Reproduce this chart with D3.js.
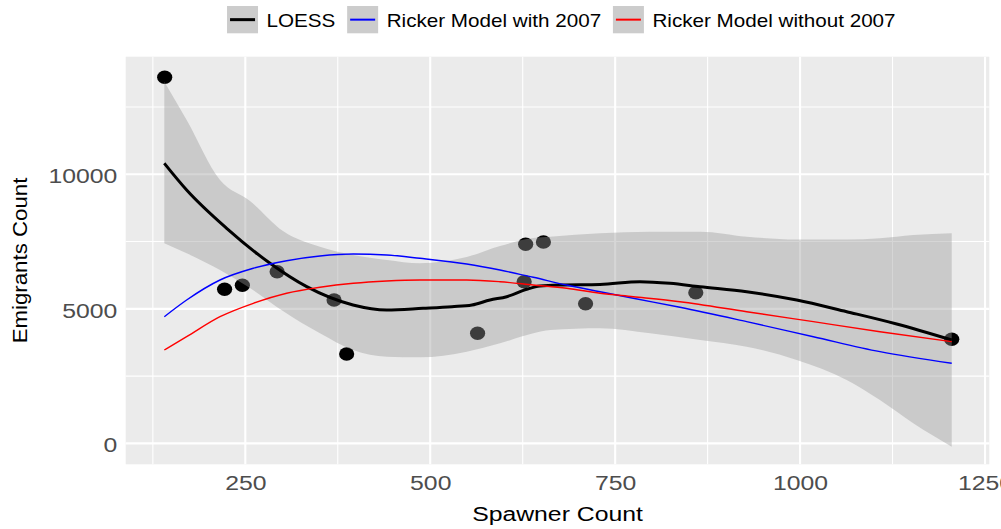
<!DOCTYPE html>
<html>
<head>
<meta charset="utf-8">
<script src="https://cdn.jsdelivr.net/npm/d3@7"></script>
<style>
  html, body { margin: 0; padding: 0; background: #ffffff; }
  svg { display: block; font-family: "Liberation Sans", Arial, sans-serif; }
</style>
</head>
<body>
<svg id="chart" width="1001" height="529"></svg>
<script>
// Observed spawner / emigrant pairs
const spawners  = [141, 222, 246, 293, 370, 387, 564, 629, 653, 627, 710, 859, 1205];
const emigrants = [13605, 5727, 5875, 6381, 5329, 3322, 4091, 7399, 7484, 6009, 5191, 5600, 3868];

// LOESS fit
const loessX   = [140.5, 170.7, 224.8, 283.4, 333.0, 395.6, 441.1, 490.2, 529.4, 556.4, 580.8, 603.4,
                  630.4, 648.3, 675.4, 729.5, 783.5, 824.1, 864.6, 927.8, 995.4, 1063.0, 1130.6, 1205];
const loessFit = [10409, 9417, 7993, 6693, 5823, 5143, 4957, 5020, 5080, 5143, 5329, 5452,
                  5727, 5849, 5886, 5905, 6009, 5950, 5823, 5637, 5329, 4894, 4437, 3842];

// LOESS confidence band
const bandX     = [140.5, 170.7, 215.8, 256.3, 300.9, 350.9, 395.6, 441.5, 486.1, 549.3, 594.3,
                   639.3, 662.2, 729.8, 797.4, 865.0, 927.8, 995.4, 1063.0, 1107.9, 1153.0, 1205];
const bandLower = [7436, 7064, 6444, 5775, 4920, 4091, 3471, 3222, 3200, 3408, 3720,
                   4091, 4214, 4277, 4091, 3842, 3593, 3099, 2356, 1613, 747, -123];
const bandUpper = [13441, 12018, 9788, 9008, 7893, 7310, 7001, 6815, 6693, 6927, 7336,
                   7633, 7681, 7807, 7867, 7867, 7681, 7577, 7577, 7622, 7744, 7807];

// Ricker model curves
const rickerX       = [140.5, 170.7, 215.8, 260.8, 305.9, 350.9, 396.0, 441.1, 486.1, 549.3,
                       594.3, 639.3, 684.5, 729.6, 774.5, 837.6, 927.8, 1017.9, 1108, 1205];
const rickerWith    = [4708, 5329, 6072, 6507, 6789, 6964, 7038, 7001, 6878, 6667,
                       6444, 6172, 5886, 5637, 5392, 5058, 4523, 3965, 3408, 2977];
const rickerWithout = [3471, 3965, 4708, 5206, 5578, 5801, 5950, 6035, 6072, 6072,
                       6009, 5886, 5764, 5578, 5452, 5266, 4894, 4523, 4151, 3779];

const xTicks = [250, 500, 750, 1000, 1250];
const xMinor = [125, 375, 625, 875, 1125];
const yTicks = [0, 5000, 10000];
const yMinor = [2500, 7500, 12500];

const seriesNames  = ["LOESS", "Ricker Model with 2007", "Ricker Model without 2007"];
const seriesColors = ["#000000", "#0000FF", "#FF0000"];

// ---- layout ----
const svg = d3.select("#chart");
const panel = { left: 125.7, right: 989.3, top: 56.7, bottom: 464.3 };
const stretch = 1.18;   // horizontal widening applied to all text

const x = d3.scaleLinear().domain([88.3, 1255.8]).range([panel.left, panel.right]);
const y = d3.scaleLinear().domain([-777, 14370]).range([panel.bottom, panel.top]);

svg.append("rect").attr("width", 1001).attr("height", 529).attr("fill", "#ffffff");

// panel background
svg.append("rect")
  .attr("x", panel.left).attr("y", panel.top)
  .attr("width", panel.right - panel.left).attr("height", panel.bottom - panel.top)
  .attr("fill", "#EBEBEB");

const grid = svg.append("g").attr("stroke", "#ffffff");
grid.selectAll(".vminor").data(xMinor).join("line")
  .attr("x1", d => x(d)).attr("x2", d => x(d))
  .attr("y1", panel.top).attr("y2", panel.bottom).attr("stroke-width", 1.1);
grid.selectAll(".hminor").data(yMinor).join("line")
  .attr("y1", d => y(d)).attr("y2", d => y(d))
  .attr("x1", panel.left).attr("x2", panel.right).attr("stroke-width", 1.1);
grid.selectAll(".vmajor").data(xTicks.filter(v => x(v) <= panel.right)).join("line")
  .attr("x1", d => x(d)).attr("x2", d => x(d))
  .attr("y1", panel.top).attr("y2", panel.bottom).attr("stroke-width", 2.1);
grid.selectAll(".hmajor").data(yTicks).join("line")
  .attr("y1", d => y(d)).attr("y2", d => y(d))
  .attr("x1", panel.left).attr("x2", panel.right).attr("stroke-width", 2.1);

// observations
svg.append("g").selectAll("ellipse").data(spawners).join("ellipse")
  .attr("cx", (d) => x(d))
  .attr("cy", (d, i) => y(emigrants[i]))
  .attr("rx", 7.6).attr("ry", 6.7)
  .attr("fill", "#000000");

// confidence band
const band = d3.area()
  .x(i => x(bandX[i]))
  .y0(i => y(bandLower[i]))
  .y1(i => y(bandUpper[i]))
  .curve(d3.curveMonotoneX);
svg.append("path").datum(d3.range(bandX.length))
  .attr("d", band)
  .attr("fill", "#999999").attr("fill-opacity", 0.4);

// fitted lines
const lineOf = (xs, ys) => d3.line().x(i => x(xs[i])).y(i => y(ys[i])).curve(d3.curveMonotoneX)(d3.range(xs.length));
svg.append("path").attr("d", lineOf(loessX, loessFit))
  .attr("fill", "none").attr("stroke", seriesColors[0]).attr("stroke-width", 3).attr("stroke-linejoin", "round");
svg.append("path").attr("d", lineOf(rickerX, rickerWith))
  .attr("fill", "none").attr("stroke", seriesColors[1]).attr("stroke-width", 1.4);
svg.append("path").attr("d", lineOf(rickerX, rickerWithout))
  .attr("fill", "none").attr("stroke", seriesColors[2]).attr("stroke-width", 1.4);

// ---- axes ----
const xAxis = svg.append("g")
  .attr("transform", `translate(0,${panel.bottom})`)
  .call(d3.axisBottom(x).tickValues(xTicks).tickFormat(d3.format("d")).tickSize(0).tickPadding(0));
xAxis.select(".domain").remove();
xAxis.selectAll("text")
  .attr("y", 26.2).attr("dy", null)
  .attr("font-size", 21).attr("fill", "#4D4D4D")
  .attr("font-family", "'Liberation Sans', Arial, sans-serif")
  .attr("transform", `scale(${stretch},1)`);

const yAxis = svg.append("g")
  .attr("transform", `translate(${panel.left},0)`)
  .call(d3.axisLeft(y).tickValues(yTicks).tickFormat(d3.format("d")).tickSize(0).tickPadding(0));
yAxis.select(".domain").remove();
yAxis.selectAll("text")
  .attr("x", -8.4 / stretch).attr("y", 8.3).attr("dy", null)
  .attr("font-size", 21).attr("fill", "#4D4D4D")
  .attr("font-family", "'Liberation Sans', Arial, sans-serif")
  .attr("transform", `scale(${stretch},1)`);

// axis titles
svg.append("text")
  .attr("transform", `translate(${(panel.left + panel.right) / 2},520.5) scale(${stretch},1)`)
  .attr("text-anchor", "middle").attr("font-size", 21).attr("fill", "#000000")
  .text("Spawner Count");
svg.append("text")
  .attr("transform", `translate(27,${(panel.top + panel.bottom) / 2}) rotate(-90) scale(1.06,1)`)
  .attr("text-anchor", "middle").attr("font-size", 21).attr("fill", "#000000")
  .text("Emigrants Count");

// ---- legend ----
const legend = svg.append("g");
const keyW = 31, keyH = 27.3, keyTop = 6;
let cursor = 0;
seriesNames.forEach((name, i) => {
  const g = legend.append("g");
  g.append("rect").attr("x", cursor).attr("y", keyTop).attr("width", keyW).attr("height", keyH).attr("fill", "#CCCCCC");
  g.append("line")
    .attr("x1", cursor + 3).attr("x2", cursor + keyW - 3)
    .attr("y1", keyTop + keyH / 2).attr("y2", keyTop + keyH / 2)
    .attr("stroke", seriesColors[i]).attr("stroke-width", i === 0 ? 3 : 2);
  const tx = cursor + keyW + 8.5;
  const t = g.append("text")
    .attr("transform", `translate(${tx},27.3) scale(${stretch},1)`)
    .attr("font-size", 17.5).attr("fill", "#000000")
    .text(name);
  const w = t.node().getComputedTextLength() * stretch;
  cursor = tx + w + 11.8;
});
const legendWidth = cursor - 11.8;
legend.attr("transform", `translate(${561.3 - legendWidth / 2},0)`);
</script>
</body>
</html>
